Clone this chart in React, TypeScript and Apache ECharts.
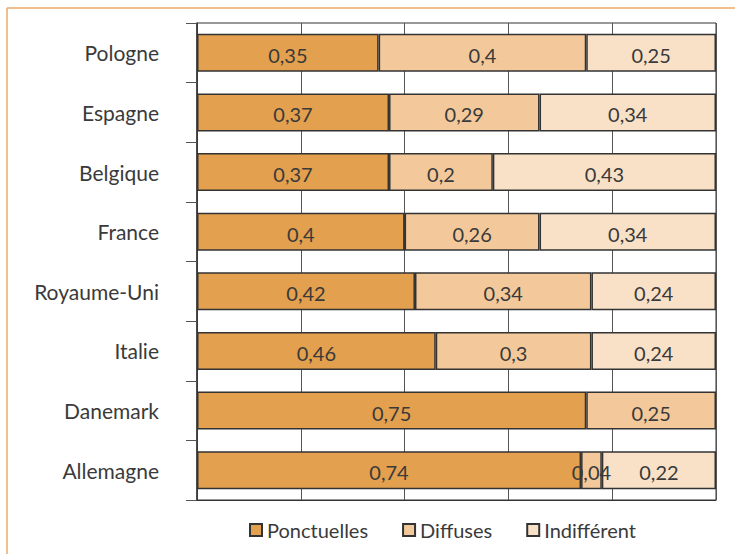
import React, { useEffect, useRef } from "react";
import * as echarts from "echarts";

const countries = ["Pologne", "Espagne", "Belgique", "France", "Royaume-Uni", "Italie", "Danemark", "Allemagne"];
const ponctuelles = [0.35, 0.37, 0.37, 0.4, 0.42, 0.46, 0.75, 0.74];
const diffuses = [0.4, 0.29, 0.2, 0.26, 0.34, 0.3, 0.25, 0.04];
const indifferent = [0.25, 0.34, 0.43, 0.34, 0.24, 0.24, null, 0.22];
const seriesNames = ["Ponctuelles", "Diffuses", "Indifférent"];
const seriesColors = ["#E3A04E", "#F3C99B", "#F9E1C8"];

const FONT = "Lato";
const TEXT = "#3a3a3a";

export default function App() {
  const ref = useRef<HTMLDivElement>(null);
  useEffect(() => {
    if (!ref.current) return;
    const chart = echarts.init(ref.current, null, { renderer: "svg" });
    const datasets = [ponctuelles, diffuses, indifferent];
    chart.setOption({
      animation: false,
      backgroundColor: "#ffffff",
      textStyle: { fontFamily: FONT },
      grid: {
        left: 197,
        right: 19,
        top: 23,
        bottom: 54,
        show: true,
        borderColor: "#333333",
        borderWidth: 1,
      },
      xAxis: {
        type: "value",
        min: 0,
        max: 1,
        interval: 0.2,
        axisLabel: { show: false },
        axisTick: { show: false },
        axisLine: { show: true, lineStyle: { color: "#333333", width: 1 } },
        splitLine: { show: true, lineStyle: { color: "#555555", width: 1 } },
      },
      yAxis: {
        type: "category",
        data: countries,
        inverse: true,
        axisLine: { show: true, lineStyle: { color: "#333333", width: 1.5 } },
        axisTick: { show: true, length: 11, lineStyle: { color: "#555555" } },
        axisLabel: { margin: 38, fontSize: 21, color: TEXT, fontFamily: FONT },
      },
      legend: {
        bottom: 9,
        left: 244,
        itemWidth: 12,
        itemHeight: 12,
        itemGap: 34,
        icon: "rect",
        textStyle: { fontSize: 20, color: TEXT, fontFamily: FONT },
        data: seriesNames,
      },
      graphic: [
        { type: "line", shape: { x1: 7, y1: 8, x2: 735, y2: 8 }, style: { stroke: "#EDAA68", lineWidth: 1.5 } },
        { type: "line", shape: { x1: 7, y1: 8, x2: 7, y2: 554 }, style: { stroke: "#EDAA68", lineWidth: 1.5 } },
      ],
      series: seriesNames.map((name, i) => ({
        name,
        type: "bar",
        stack: "total",
        barWidth: 38,
        data: datasets[i],
        itemStyle: { color: seriesColors[i], borderColor: "#333333", borderWidth: 1.5 },
        label: {
          show: true,
          position: "inside",
          fontSize: 20,
          color: TEXT,
          fontFamily: FONT,
          offset: [0, 2],
          formatter: (p: any) => String(p.value).replace(".", ","),
        },
      })),
    });
    return () => chart.dispose();
  }, []);
  return <div ref={ref} style={{ position: "absolute", left: 0, top: 0, width: 735, height: 554 }} />;
}
